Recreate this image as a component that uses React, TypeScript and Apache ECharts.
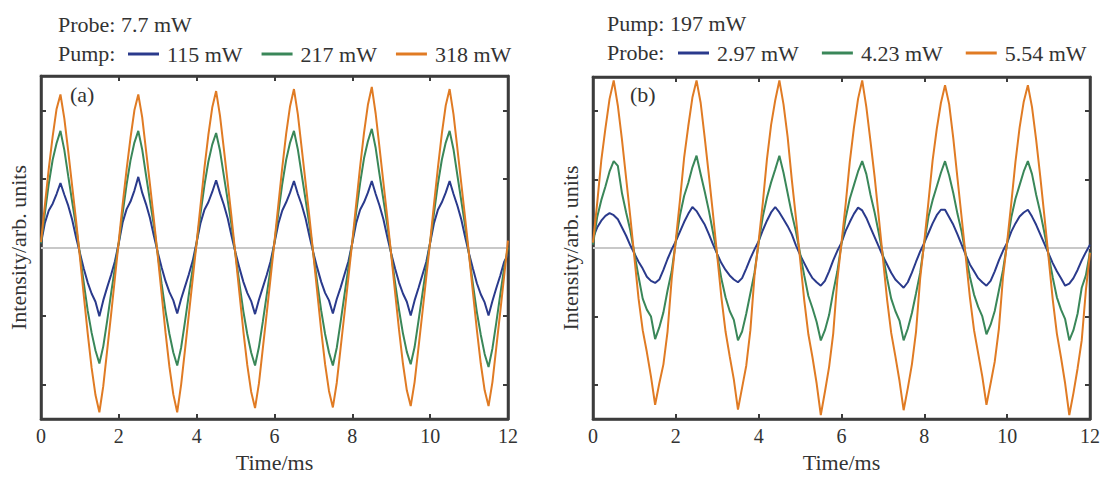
import React, { useEffect, useRef } from "react";
import * as echarts from "echarts";

// Sampling step of the recorded traces (ms)
const TIME_STEP_MS = 0.1;
const Y_TICKS = [-2, -1, 0, 1, 2];

// Panel (a): probe 7.7 mW, pump varied
const PANEL_A_TITLE = "Probe: 7.7 mW";
const PANEL_A_LEGEND_PREFIX = "Pump:";
const PANEL_A_NAMES = ["115 mW", "217 mW", "318 mW"];

const pump115 = [
  0.06, 0.36, 0.54, 0.64, 0.78, 0.94, 0.77, 0.61, 0.41, 0.15, -0.08, -0.31, -0.51, -0.67, -0.79, -1.0, -0.77, -0.58, -0.4, -0.2,
  0.07, 0.37, 0.56, 0.67, 0.83, 1.03, 0.8, 0.63, 0.43, 0.17, -0.07, -0.29, -0.49, -0.65, -0.77, -0.96, -0.75, -0.57, -0.39, -0.19,
  0.08, 0.36, 0.55, 0.66, 0.81, 0.98, 0.79, 0.62, 0.42, 0.16, -0.08, -0.3, -0.5, -0.66, -0.78, -0.97, -0.76, -0.58, -0.4, -0.2,
  0.07, 0.35, 0.54, 0.66, 0.8, 0.97, 0.78, 0.62, 0.42, 0.16, -0.08, -0.3, -0.5, -0.66, -0.77, -0.96, -0.75, -0.58, -0.39, -0.2,
  0.07, 0.36, 0.55, 0.66, 0.8, 0.97, 0.78, 0.61, 0.41, 0.15, -0.09, -0.31, -0.51, -0.67, -0.79, -0.99, -0.77, -0.59, -0.4, -0.21,
  0.07, 0.36, 0.55, 0.66, 0.8, 0.97, 0.78, 0.61, 0.41, 0.15, -0.09, -0.31, -0.52, -0.68, -0.8, -0.99, -0.78, -0.59, -0.41, -0.21,
  -0.1,
];
const pump217 = [
  0.06, 0.5, 0.93, 1.28, 1.52, 1.7, 1.42, 1.04, 0.67, 0.31, -0.1, -0.52, -0.92, -1.24, -1.5, -1.69, -1.44, -1.07, -0.67, -0.29,
  0.08, 0.51, 0.92, 1.27, 1.53, 1.7, 1.43, 1.05, 0.68, 0.32, -0.1, -0.53, -0.93, -1.26, -1.53, -1.72, -1.46, -1.08, -0.68, -0.3,
  0.07, 0.5, 0.91, 1.25, 1.5, 1.67, 1.41, 1.04, 0.68, 0.31, -0.11, -0.53, -0.93, -1.26, -1.53, -1.72, -1.45, -1.08, -0.69, -0.3,
  0.08, 0.51, 0.93, 1.28, 1.53, 1.7, 1.43, 1.06, 0.69, 0.32, -0.1, -0.52, -0.92, -1.26, -1.53, -1.72, -1.46, -1.08, -0.68, -0.29,
  0.08, 0.52, 0.94, 1.3, 1.55, 1.73, 1.45, 1.06, 0.69, 0.32, -0.1, -0.52, -0.91, -1.25, -1.52, -1.7, -1.45, -1.07, -0.68, -0.29,
  0.08, 0.51, 0.93, 1.28, 1.53, 1.7, 1.43, 1.05, 0.68, 0.31, -0.11, -0.54, -0.94, -1.27, -1.55, -1.74, -1.47, -1.09, -0.69, -0.3,
  0.0,
];
const pump318 = [
  0.08, 0.62, 1.15, 1.62, 2.02, 2.23, 1.88, 1.4, 0.9, 0.4, -0.14, -0.7, -1.25, -1.75, -2.15, -2.4, -2.02, -1.5, -0.98, -0.44,
  0.1, 0.64, 1.14, 1.6, 2.0, 2.23, 1.9, 1.41, 0.92, 0.41, -0.12, -0.68, -1.24, -1.74, -2.14, -2.4, -2.0, -1.49, -0.97, -0.45,
  0.08, 0.62, 1.16, 1.64, 2.04, 2.28, 1.92, 1.43, 0.93, 0.42, -0.12, -0.67, -1.22, -1.71, -2.1, -2.34, -1.98, -1.47, -0.96, -0.44,
  0.09, 0.63, 1.17, 1.66, 2.06, 2.31, 1.94, 1.44, 0.94, 0.43, -0.11, -0.66, -1.21, -1.7, -2.09, -2.33, -1.97, -1.46, -0.95, -0.43,
  0.09, 0.64, 1.18, 1.67, 2.08, 2.34, 1.95, 1.45, 0.94, 0.43, -0.11, -0.66, -1.2, -1.69, -2.08, -2.31, -1.96, -1.46, -0.95, -0.43,
  0.09, 0.64, 1.17, 1.66, 2.07, 2.31, 1.94, 1.44, 0.93, 0.42, -0.11, -0.66, -1.2, -1.69, -2.08, -2.31, -1.96, -1.45, -0.94, -0.42,
  0.1,
];

// Panel (b): pump 197 mW, probe varied
const PANEL_B_TITLE = "Pump: 197 mW";
const PANEL_B_LEGEND_PREFIX = "Probe:";
const PANEL_B_NAMES = ["2.97 mW", "4.23 mW", "5.54 mW"];

const probe297 = [
  0.15, 0.3, 0.4, 0.47, 0.51, 0.48, 0.42, 0.3, 0.18, 0.04, -0.08, -0.2, -0.3, -0.42, -0.48, -0.51, -0.46, -0.32, -0.16, -0.02,
  0.1, 0.24, 0.38, 0.5, 0.6, 0.54, 0.44, 0.34, 0.2, 0.05, -0.09, -0.22, -0.32, -0.4, -0.46, -0.5, -0.44, -0.3, -0.15, -0.02,
  0.1, 0.26, 0.4, 0.52, 0.6, 0.52, 0.42, 0.32, 0.2, 0.04, -0.1, -0.22, -0.34, -0.44, -0.5, -0.55, -0.48, -0.34, -0.18, -0.04,
  0.08, 0.25, 0.38, 0.5, 0.59, 0.55, 0.44, 0.3, 0.16, 0.02, -0.12, -0.24, -0.36, -0.46, -0.52, -0.58, -0.5, -0.36, -0.2, -0.05,
  0.08, 0.22, 0.36, 0.48, 0.56, 0.56, 0.45, 0.34, 0.2, 0.05, -0.1, -0.24, -0.34, -0.44, -0.5, -0.55, -0.48, -0.34, -0.18, -0.04,
  0.08, 0.24, 0.36, 0.46, 0.52, 0.56, 0.46, 0.34, 0.2, 0.06, -0.08, -0.22, -0.34, -0.44, -0.55, -0.52, -0.44, -0.32, -0.18, -0.06,
  0.05,
];
const probe423 = [
  0.05, 0.45, 0.7, 0.9, 1.12, 1.27, 1.2, 0.8, 0.52, 0.26, -0.08, -0.42, -0.74, -0.9, -1.0, -1.33, -1.16, -0.94, -0.62, -0.34,
  0.1, 0.48, 0.76, 0.95, 1.18, 1.35, 1.08, 0.82, 0.54, 0.22, -0.1, -0.45, -0.72, -0.92, -1.05, -1.35, -1.22, -0.96, -0.66, -0.36,
  0.08, 0.46, 0.74, 0.96, 1.15, 1.35, 1.1, 0.8, 0.5, 0.24, -0.08, -0.4, -0.7, -0.88, -1.08, -1.35, -1.2, -0.98, -0.64, -0.34,
  0.06, 0.44, 0.72, 0.92, 1.12, 1.27, 1.08, 0.78, 0.52, 0.22, -0.1, -0.44, -0.74, -0.92, -1.06, -1.35, -1.18, -0.95, -0.66, -0.36,
  0.08, 0.46, 0.7, 0.9, 1.1, 1.27, 1.06, 0.8, 0.5, 0.24, -0.1, -0.42, -0.68, -0.86, -1.0, -1.26, -1.12, -0.92, -0.62, -0.32,
  0.07, 0.45, 0.72, 0.92, 1.12, 1.27, 1.08, 0.78, 0.52, 0.22, -0.1, -0.43, -0.72, -0.9, -1.04, -1.35, -1.2, -0.96, -0.58, -0.4,
  -0.06,
];
const probe554 = [
  0.08, 0.65, 1.28, 1.75, 2.18, 2.45, 2.08, 1.58, 1.02, 0.46, -0.14, -0.74, -1.2, -1.52, -1.88, -2.29, -1.98, -1.7, -1.22, -0.45,
  0.12, 0.7, 1.32, 1.78, 2.2, 2.45, 2.12, 1.6, 1.05, 0.48, -0.12, -0.72, -1.22, -1.58, -1.92, -2.36, -2.04, -1.72, -1.2, -0.4,
  0.1, 0.66, 1.3, 1.8, 2.16, 2.45, 2.1, 1.62, 1.0, 0.44, -0.16, -0.76, -1.26, -1.6, -1.98, -2.44, -2.1, -1.74, -1.25, -0.46,
  0.08, 0.64, 1.26, 1.76, 2.18, 2.45, 2.06, 1.56, 1.04, 0.45, -0.15, -0.75, -1.24, -1.58, -1.94, -2.37, -2.05, -1.7, -1.22, -0.44,
  0.1, 0.68, 1.28, 1.74, 2.12, 2.38, 2.1, 1.6, 1.02, 0.45, -0.13, -0.72, -1.2, -1.54, -1.88, -2.29, -1.98, -1.66, -1.18, -0.42,
  0.09, 0.66, 1.26, 1.76, 2.14, 2.38, 2.06, 1.58, 1.04, 0.46, -0.14, -0.75, -1.25, -1.6, -1.98, -2.44, -2.12, -1.76, -1.35, -0.62,
  -0.07,
];

const COLORS = ["#2a3a8c", "#3a8759", "#e07b24"];
const FONT = "Liberation Serif, Times New Roman, serif";
const TEXT_COLOR = "#333333";
const AXIS_COLOR = "#3c3c3c";

const toPairs = (vals: number[]) =>
  vals.map((v, i) => [Number((i * TIME_STEP_MS).toFixed(1)), v]);

export default function App() {
  const ref = useRef<HTMLDivElement>(null);

  useEffect(() => {
    if (!ref.current) return;
    const chart = echarts.init(ref.current, undefined, { renderer: "svg" });

    const frame = { show: true, borderColor: AXIS_COLOR, borderWidth: 2.5, backgroundColor: "transparent" };
    const grids = [
      { left: 41, top: 76, width: 467, height: 349, ...frame },
      { left: 593, top: 77, width: 501, height: 350, ...frame },
    ];

    const axisLine = { show: true, onZero: false, lineStyle: { color: AXIS_COLOR, width: 2.5 } };
    const tickStyle = { show: true, inside: true, length: 5, lineStyle: { color: AXIS_COLOR, width: 2 } };

    const xAxes: any[] = [];
    const yAxes: any[] = [];
    [0, 1].forEach((g) => {
      xAxes.push({
        type: "value",
        gridIndex: g,
        min: 0,
        max: 12,
        interval: 2,
        position: "bottom",
        axisLine: { ...axisLine },
        axisTick: { ...tickStyle },
        splitLine: { show: false },
        axisLabel: {
          color: TEXT_COLOR,
          fontFamily: FONT,
          fontSize: 20,
          margin: 7,
          showMaxLabel: true,
          showMinLabel: true,
        },
        name: "Time/ms",
        nameLocation: "middle",
        nameGap: 31,
        nameTextStyle: { color: TEXT_COLOR, fontFamily: FONT, fontSize: 22 },
      });
      xAxes.push({
        type: "value",
        gridIndex: g,
        min: 0,
        max: 12,
        interval: 2,
        position: "top",
        axisLine: { ...axisLine },
        axisTick: { ...tickStyle },
        splitLine: { show: false },
        axisLabel: { show: false },
      });
      yAxes.push({
        type: "value",
        gridIndex: g,
        min: -2.5,
        max: 2.5,
        position: "left",
        axisLine: { ...axisLine },
        axisTick: { ...tickStyle, customValues: Y_TICKS },
        axisLabel: { show: false, customValues: Y_TICKS },
        splitLine: { show: false },
        name: "Intensity/arb. units",
        nameLocation: "middle",
        nameGap: 12,
        nameRotate: 90,
        nameTextStyle: { color: TEXT_COLOR, fontFamily: FONT, fontSize: 22 },
      });
      yAxes.push({
        type: "value",
        gridIndex: g,
        min: -2.5,
        max: 2.5,
        position: "right",
        axisLine: { ...axisLine },
        axisTick: { ...tickStyle, customValues: Y_TICKS },
        axisLabel: { show: false, customValues: Y_TICKS },
        splitLine: { show: false },
      });
    });

    const zeroLine = {
      silent: true,
      symbol: "none",
      label: { show: false },
      lineStyle: { color: "#c8c8c8", width: 2, type: "solid" },
      data: [{ yAxis: 0 }],
      z: 1,
    };

    const mkSeries = (name: string, vals: number[], color: string, panel: number, withZero: boolean) => ({
      type: "line",
      name,
      xAxisIndex: panel * 2,
      yAxisIndex: panel * 2,
      data: toPairs(vals),
      showSymbol: false,
      symbol: "none",
      lineStyle: { color, width: 2 },
      itemStyle: { color },
      z: 3,
      ...(withZero ? { markLine: zeroLine } : {}),
    });

    const series = [
      mkSeries(PANEL_A_NAMES[0], pump115, COLORS[0], 0, true),
      mkSeries(PANEL_A_NAMES[1], pump217, COLORS[1], 0, false),
      mkSeries(PANEL_A_NAMES[2], pump318, COLORS[2], 0, false),
      mkSeries(PANEL_B_NAMES[0], probe297, COLORS[0], 1, true),
      mkSeries(PANEL_B_NAMES[1], probe423, COLORS[1], 1, false),
      mkSeries(PANEL_B_NAMES[2], probe554, COLORS[2], 1, false),
    ];

    const legendBase = {
      orient: "horizontal",
      icon: "rect",
      itemWidth: 31,
      itemHeight: 3,
      textStyle: {
        color: TEXT_COLOR,
        fontFamily: FONT,
        fontSize: 22,
        lineHeight: 24,
        padding: [0, 0, 0, 3],
      },
      selectedMode: false,
      padding: 0,
    };

    const textStyle = (t: string) => ({
      text: t,
      fill: TEXT_COLOR,
      fontFamily: FONT,
      fontSize: 22,
      verticalAlign: "middle",
    });

    chart.setOption({
      animation: false,
      backgroundColor: "#ffffff",
      grid: grids,
      xAxis: xAxes,
      yAxis: yAxes,
      legend: [
        { ...legendBase, data: PANEL_A_NAMES, left: 128, top: 42, itemGap: 19 },
        { ...legendBase, data: PANEL_B_NAMES, left: 678, top: 41, itemGap: 23 },
      ],
      graphic: [
        { type: "text", left: 58, top: 13, style: textStyle(PANEL_A_TITLE) },
        { type: "text", left: 58, top: 42, style: textStyle(PANEL_A_LEGEND_PREFIX) },
        { type: "text", left: 70, top: 83, style: textStyle("(a)") },
        { type: "text", left: 607, top: 12, style: textStyle(PANEL_B_TITLE) },
        { type: "text", left: 607, top: 41, style: textStyle(PANEL_B_LEGEND_PREFIX) },
        { type: "text", left: 630, top: 83, style: textStyle("(b)") },
      ],
      series,
    });

    return () => chart.dispose();
  }, []);

  return (
    <div
      ref={ref}
      style={{ position: "absolute", left: 0, top: 0, width: 1103, height: 478, background: "#fff" }}
    />
  );
}
